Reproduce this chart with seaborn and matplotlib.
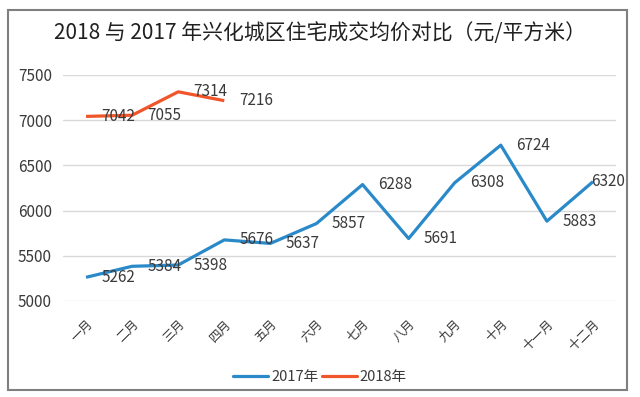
import matplotlib
matplotlib.use("Agg")
import matplotlib.pyplot as plt
import seaborn as sns
import pandas as pd
from matplotlib.patches import Rectangle

months = ["一月", "二月", "三月", "四月", "五月", "六月", "七月", "八月", "九月", "十月", "十一月", "十二月"]
values_2017 = [5262, 5384, 5398, 5676, 5637, 5857, 6288, 5691, 6308, 6724, 5883, 6320]
values_2018 = [7042, 7055, 7314, 7216]
series_names = ["2017年", "2018年"]
y_ticks = [5000, 5500, 6000, 6500, 7000, 7500]
title = "2018 与 2017 年兴化城区住宅成交均价对比（元/平方米）"

colors = {"2017年": "#2A8AC9", "2018年": "#F0562A"}
text_color = "#3A3A3A"

df = pd.concat([
    pd.DataFrame({"month": months, "idx": range(len(months)), "price": values_2017, "year": series_names[0]}),
    pd.DataFrame({"month": months[:len(values_2018)], "idx": range(len(values_2018)), "price": values_2018, "year": series_names[1]}),
], ignore_index=True)

sns.set_theme(style="white")
plt.rcParams["font.family"] = ["Noto Sans CJK SC", "DejaVu Sans"]

W, H = 640, 397
fig = plt.figure(figsize=(6.4, 3.97), dpi=100)
ax = fig.add_axes([63 / W, 1 - 301 / H, (616 - 63) / W, (301 - 75) / H])

sns.lineplot(data=df, x="idx", y="price", hue="year", palette=colors, linewidth=2.3,
             ax=ax, legend=False, sort=False)

for name, vals in zip(series_names, [values_2017, values_2018]):
    for i, v in enumerate(vals):
        dx = 11 if i < len(months) - 1 else -1
        ax.annotate(f"{v}", (i, v), xytext=(dx, 0), textcoords="offset points",
                    ha="left", va="center", fontsize=11, color=text_color)

ax.set_xlim(-0.5, len(months) - 0.5)
ax.set_ylim(y_ticks[0], y_ticks[-1])
ax.set_yticks(y_ticks)
ax.set_yticklabels([str(t) for t in y_ticks], fontsize=11, color=text_color)
ax.set_xticks(range(len(months)))
ax.set_xticklabels(months, fontsize=9, color=text_color, rotation=45, ha="right",
                   rotation_mode="anchor")
ax.tick_params(axis="x", length=0, pad=12)
ax.tick_params(axis="y", length=0, pad=8)
ax.set_xlabel("")
ax.set_ylabel("")
ax.yaxis.grid(True, color="#D9D9D9", linewidth=1)
ax.xaxis.grid(False)
for s in ax.spines.values():
    s.set_visible(False)
for line in ax.lines:
    line.set_clip_on(False)
    line.set_solid_capstyle("butt")

fig.text(0.5, 1 - 33 / H, title, ha="center", va="center", fontsize=15, color="#202020")

handles = [plt.Line2D([], [], color=colors[n], linewidth=2.3) for n in series_names]
fig.legend(handles, series_names, loc="center", bbox_to_anchor=(0.5, 1 - 377 / H), ncol=2,
           frameon=False, fontsize=10.5, handlelength=2.4, handletextpad=0.2,
           columnspacing=0.2, labelcolor=text_color)

fig.patches.append(Rectangle((8 / W, 1 - 390 / H), (627 - 8) / W, (390 - 10) / H,
                             transform=fig.transFigure, fill=False,
                             edgecolor="#7F7F7F", linewidth=1.5))

fig.savefig("out.png", dpi=100)
